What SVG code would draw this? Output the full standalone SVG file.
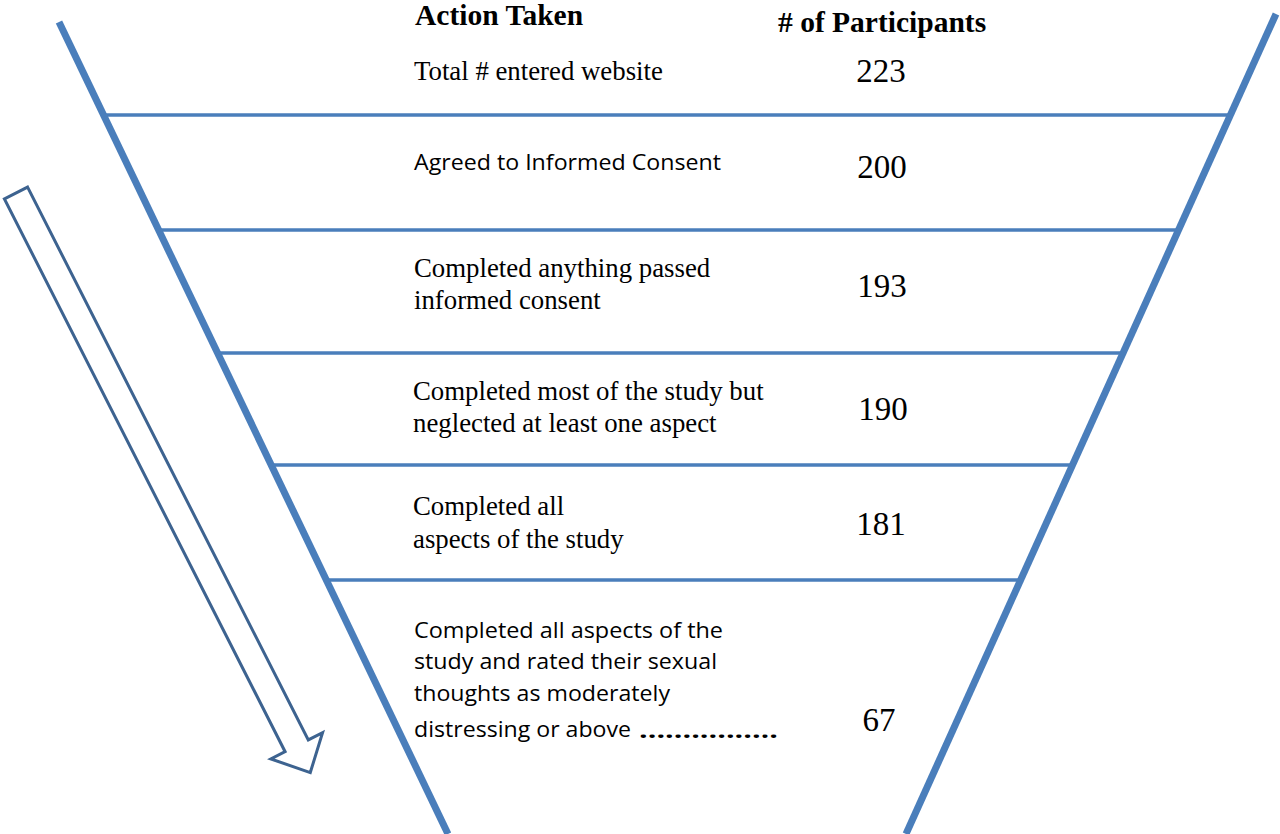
<svg xmlns="http://www.w3.org/2000/svg" width="1280" height="834" viewBox="0 0 1280 834">
<style>
.serif{font-family:"Liberation Serif","Times New Roman",serif;fill:#000}
.sans{font-family:"Open Sans","Liberation Sans",Arial,sans-serif;fill:#000;font-size:21px}
.hd{font-size:29.5px;font-weight:bold}
.lbl{font-size:26.8px}
.num{font-size:33px;text-anchor:middle}
.side{stroke:#4a7ebb;stroke-width:7;fill:none}
.div{stroke:#4a7ebb;stroke-width:3.5;fill:none}
</style>
<rect width="1280" height="834" fill="#fff"/>
<g id="funnel">
<line class="side" x1="59" y1="22" x2="448" y2="834"/>
<line class="side" x1="1276" y1="14" x2="906" y2="834"/>
</g>
<g id="connectors">
<line class="div" x1="104" y1="115" x2="1231" y2="115"/>
<line class="div" x1="159" y1="230" x2="1177" y2="230"/>
<line class="div" x1="218" y1="353" x2="1121" y2="353"/>
<line class="div" x1="272" y1="465" x2="1072" y2="465"/>
<line class="div" x1="328" y1="580" x2="1020" y2="580"/>
</g>
<g id="arrow">
<path transform="translate(16,193) rotate(63.08)" d="M0,-13 L620,-13 L620,-29 L650,0 L620,29 L620,13 L0,13 Z" fill="#fff" stroke="#3d6390" stroke-width="3" stroke-linejoin="miter"/>
</g>
<g id="header">
<text class="serif hd" x="415" y="25">Action Taken</text>
<text class="serif hd" x="778" y="32"># of Participants</text>
</g>
<g id="row1">
<text class="serif lbl" x="414" y="80">Total # entered website</text>
<text class="serif num" x="881" y="82">223</text>
</g>
<g id="row2">
<text class="sans" x="414" y="170" textLength="307" lengthAdjust="spacingAndGlyphs">Agreed to Informed Consent</text>
<text class="serif num" x="882" y="178">200</text>
</g>
<g id="row3">
<text class="serif lbl" x="414" y="277">Completed anything passed</text>
<text class="serif lbl" x="414" y="309">informed consent</text>
<text class="serif num" x="882" y="297">193</text>
</g>
<g id="row4">
<text class="serif lbl" x="413" y="400">Completed most of the study but</text>
<text class="serif lbl" x="413" y="432">neglected at least one aspect</text>
<text class="serif num" x="883" y="420">190</text>
</g>
<g id="row5">
<text class="serif lbl" x="413" y="515">Completed all</text>
<text class="serif lbl" x="413" y="548">aspects of the study</text>
<text class="serif num" x="881" y="535">181</text>
</g>
<g id="row6">
<text class="sans" x="414" y="638" textLength="309" lengthAdjust="spacingAndGlyphs">Completed all aspects of the</text>
<text class="sans" x="414" y="669" textLength="303" lengthAdjust="spacingAndGlyphs">study and rated their sexual</text>
<text class="sans" x="414" y="701" textLength="256" lengthAdjust="spacingAndGlyphs">thoughts as moderately</text>
<text class="sans" x="414" y="737" textLength="217" lengthAdjust="spacingAndGlyphs">distressing or above</text>
<text class="sans" x="639" y="738" textLength="139" lengthAdjust="spacingAndGlyphs" font-weight="bold" font-size="27px">................</text>
<text class="serif num" x="879" y="731">67</text>
</g>
</svg>
